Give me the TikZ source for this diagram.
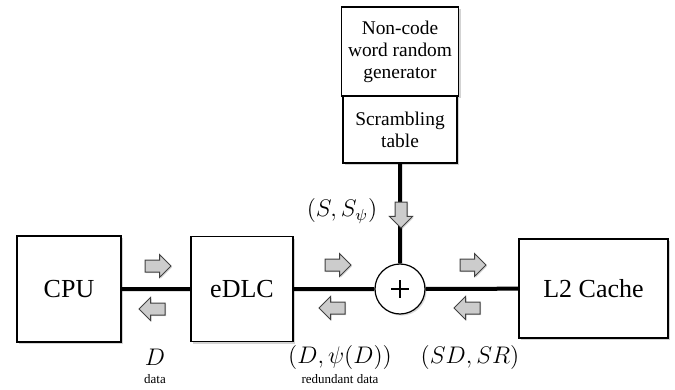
\documentclass[tikz,border=0pt]{standalone}
\usepackage{amsmath}
\usepackage{fontspec}
\setmainfont{Liberation Serif}
\usetikzlibrary{shapes.arrows,shadows}

\tikzset{
  unit/.style={draw, line width=0.6pt, fill=white, align=center,
    drop shadow={shadow xshift=1pt, shadow yshift=-1pt, opacity=0.35}},
  bus/.style={line width=2pt},
  flow/.style={single arrow, draw=black!75, line width=0.5pt, fill=black!20,
    inner sep=2.75pt, minimum height=13pt, minimum width=11pt,
    single arrow head extend=2.75pt,
    drop shadow={shadow xshift=0.6pt, shadow yshift=-0.6pt, opacity=0.3}},
  tag/.style={font=\fontsize{12}{14}\selectfont},
  note/.style={font=\fontsize{6.5}{7}\selectfont},
}

\begin{document}
\begin{tikzpicture}[x=0.5pt, y=-0.5pt]
\useasboundingbox (0,0) rectangle (675,390);

% blocks on the data path
\draw (69,289) node[unit, minimum width=52pt, minimum height=53pt,
  font=\fontsize{13}{15}\selectfont] (cpu) {CPU} ;
\draw (242,289) node[unit, minimum width=51pt, minimum height=52.5pt,
  font=\fontsize{13}{15}\selectfont] (edlc) {eDLC} ;
\draw (593.5,288.5) node[unit, minimum width=74.5pt, minimum height=49.5pt,
  font=\fontsize{13}{15}\selectfont] (l2) {L2 Cache} ;

% generator on top
\draw (400,51.5) node[unit, minimum width=57pt, minimum height=44.5pt,
  font=\fontsize{9.7}{11}\selectfont] (gen) {Non-code\\word random\\generator} ;
\draw (400,129.5) node[unit, minimum width=57pt, minimum height=33.5pt,
  font=\fontsize{9.7}{11}\selectfont] (scr) {Scrambling\\table} ;

\draw (400,289) node[circle, draw, line width=0.6pt, fill=white, minimum size=25pt,
  drop shadow={shadow xshift=0.8pt, shadow yshift=-0.8pt, opacity=0.3}] (xor) {} ;
\draw[line width=0.6pt] (xor.center) ++(-9,0) -- ++(18,0)
  (xor.center) ++(0,-9) -- ++(0,18) ;

\draw[bus] (cpu) to (edlc)   (edlc) to (xor)   (xor) to (l2)   (scr) to (xor) ;

% direction marks
\draw (155,266) node[flow] (cpuout) {} ;
\draw (155,309) node[flow, shape border rotate=180] (cpuin) {} ;
\draw (335,265) node[flow] (dlcout) {} ;
\draw (335,308) node[flow, shape border rotate=180] (dlcin) {} ;
\draw (470,265) node[flow] (memout) {} ;
\draw (470,308) node[flow, shape border rotate=180] (memin) {} ;
\draw (401,212) node[flow, shape border rotate=270] (keyin) {} ;

% labels
\draw (155,357) node[tag] (dlab) {$D$} ;
\draw (155,379) node[note] (dnote) {data} ;
\draw (340,357) node[tag] (rlab) {$(D,\psi(D))$} ;
\draw (340,379) node[note] (rnote) {redundant data} ;
\draw (470,357) node[tag] (slab) {$(SD,SR)$} ;
\draw (342,211) node[tag] (klab) {$(S,S_{\psi})$} ;

\end{tikzpicture}
\end{document}
